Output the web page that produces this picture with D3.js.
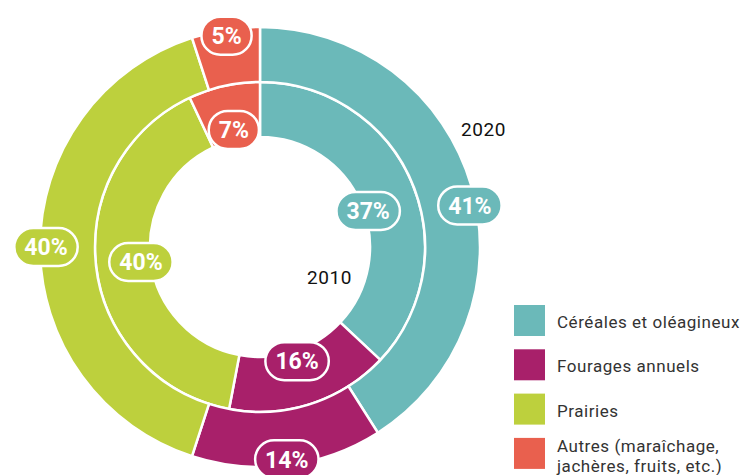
<!DOCTYPE html>
<html>
<head>
<meta charset="utf-8">
<script src="https://cdn.jsdelivr.net/npm/d3@7"></script>
<style>
  body { margin: 0; background: #fff; }
  svg { display: block; }
  text { font-family: Roboto, "Open Sans", sans-serif; }
</style>
</head>
<body>
<div id="chart"></div>
<script>
// categories and shares (%)
var categories = ["Céréales et oléagineux", "Fourages annuels", "Prairies", "Autres (maraîchage, jachères, fruits, etc.)"];
var legendLines = [["Céréales et oléagineux"], ["Fourages annuels"], ["Prairies"], ["Autres (maraîchage,", "jachères, fruits, etc.)"]];
var colors = ["#6bb9b9", "#a8206a", "#bdd03d", "#e9604e"];
var values2010 = [37, 16, 40, 7];
var values2020 = [41, 14, 40, 5];
var years = ["2010", "2020"];

var width = 744, height = 475;
var cx = 260, cy = 247;
//ring radii
var rings = [
	{ year: "2010", values: values2010, inner: 110, outer: 165, labelR: 120 },
	{ year: "2020", values: values2020, inner: 165, outer: 220, labelR: 214 }
];
//small angle nudges for the label pills (degrees), the teal ones sit lower
var labelNudge = [5, 0, 0, 0];

var svg = d3.select('#chart').append('svg')
	.attr('width', width)
	.attr('height', height);

var g = svg.append('g')
	.attr('transform', 'translate(' + cx + ',' + cy + ')');

var pie = d3.pie().sort(null).value(function(d) { return d; });

rings.forEach(function(ring) {
	var arc = d3.arc().innerRadius(ring.inner).outerRadius(ring.outer);
	ring.arcs = pie(ring.values);
	g.append('g').attr('class', 'ring')
		.selectAll('path')
		.data(ring.arcs)
		.enter().append('path')
		.attr('d', arc)
		.style('fill', function(d, i) { return colors[i]; })
		.style('stroke', '#fff')
		.style('stroke-width', 2.5);
});

//labels on top of both rings
rings.forEach(function(ring, ri) {
	var lg = g.append('g').attr('class', 'labels');
	ring.arcs.forEach(function(d, i) {
		var a = (d.startAngle + d.endAngle) / 2 + labelNudge[i] * Math.PI / 180;
		var r = (ri == 0 && i == 0) ? ring.labelR - 6 : ring.labelR;
		var x = r * Math.sin(a);
		var y = -r * Math.cos(a);
		var pg = lg.append('g').attr('transform', 'translate(' + x + ',' + y + ')');
		var rect = pg.append('rect');
		var t = pg.append('text')
			.attr('text-anchor', 'middle')
			.attr('dy', '0.36em')
			.style('font-size', '23px')
			.style('font-weight', 'bold')
			.style('fill', '#fff')
			.text(d.data + '%');
		var w = t.node().getComputedTextLength() + 20;
		var h = 38;
		rect.attr('x', -w / 2).attr('y', -h / 2)
			.attr('width', w).attr('height', h)
			.attr('rx', h / 2).attr('ry', h / 2)
			.style('fill', colors[i])
			.style('stroke', '#fff')
			.style('stroke-width', 2.5);
	});
});

//year labels
svg.append('text').attr('x', 461).attr('y', 136)
	.style('font-size', '19px').style('letter-spacing', '0.6px').style('fill', '#111').text(years[1]);
svg.append('text').attr('x', 307).attr('y', 284)
	.style('font-size', '19px').style('letter-spacing', '0.6px').style('fill', '#111').text(years[0]);

//legend
var legend = svg.append('g').attr('transform', 'translate(514,305)');
var item = legend.selectAll('.item')
	.data(categories)
	.enter().append('g')
	.attr('class', 'item')
	.attr('transform', function(d, i) { return 'translate(0,' + (i * 44.3) + ')'; });

item.append('rect')
	.attr('width', 31).attr('height', 31)
	.style('fill', function(d, i) { return colors[i]; });

item.each(function(d, i) {
	var lines = legendLines[i];
	var t = d3.select(this).append('text')
		.attr('x', 43)
		.style('font-size', '17px')
		.style('letter-spacing', '0.55px')
		.style('fill', '#333');
	lines.forEach(function(l, j) {
		t.append('tspan')
			.attr('x', 43)
			.attr('y', lines.length > 1 ? 14 + j * 20 : 23)
			.text(l);
	});
});
</script>
</body>
</html>
